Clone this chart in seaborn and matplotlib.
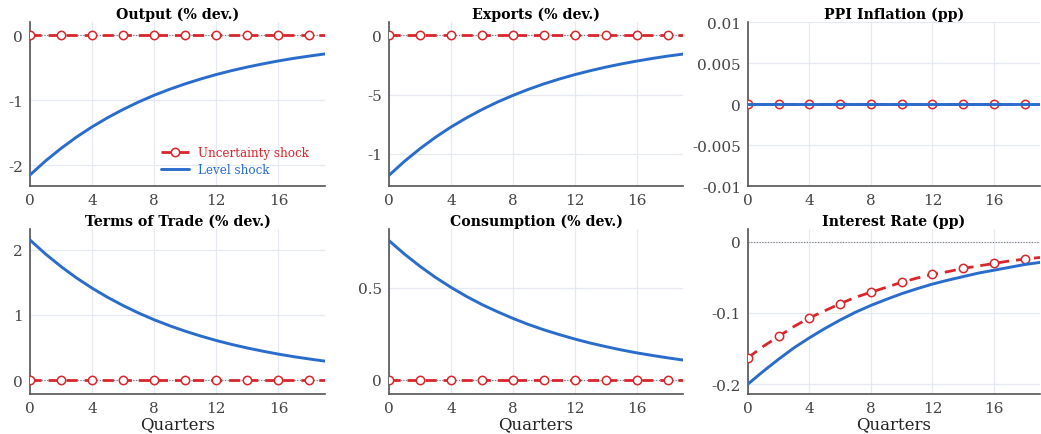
import numpy as np
import pandas as pd
import matplotlib
matplotlib.use("Agg")
import matplotlib.pyplot as plt
import seaborn as sns

quarters = list(range(20))
zeros = [0.0] * 20

output_level = [-2.150, -1.935, -1.742, -1.567, -1.411, -1.270, -1.143, -1.028, -0.925, -0.833,
                -0.750, -0.675, -0.607, -0.546, -0.492, -0.443, -0.398, -0.358, -0.323, -0.290]
exports_level = [-1.180, -1.062, -0.956, -0.860, -0.774, -0.697, -0.627, -0.564, -0.508, -0.457,
                 -0.411, -0.370, -0.333, -0.300, -0.270, -0.243, -0.219, -0.197, -0.177, -0.160]
ppi_level = [0.0] * 20
tot_level = [2.150, 1.935, 1.742, 1.567, 1.411, 1.270, 1.143, 1.028, 0.925, 0.833,
             0.750, 0.675, 0.607, 0.546, 0.492, 0.443, 0.398, 0.358, 0.323, 0.290]
cons_level = [0.755, 0.682, 0.616, 0.556, 0.502, 0.453, 0.409, 0.370, 0.334, 0.301,
              0.272, 0.246, 0.222, 0.200, 0.181, 0.163, 0.147, 0.133, 0.120, 0.108]
rate_level = [-0.200, -0.182, -0.165, -0.149, -0.135, -0.122, -0.110, -0.099, -0.0895, -0.081,
              -0.073, -0.066, -0.0595, -0.054, -0.049, -0.044, -0.040, -0.036, -0.032, -0.029]
rate_unc = [-0.163, -0.147, -0.133, -0.119, -0.107, -0.097, -0.087, -0.078, -0.071, -0.064,
            -0.057, -0.051, -0.046, -0.042, -0.0375, -0.034, -0.0305, -0.027, -0.0245, -0.022]

titles = ["Output (% dev.)", "Exports (% dev.)", "PPI Inflation (pp)",
          "Terms of Trade (% dev.)", "Consumption (% dev.)", "Interest Rate (pp)"]
level_series = [output_level, exports_level, ppi_level, tot_level, cons_level, rate_level]
unc_series = [zeros, zeros, zeros, zeros, zeros, rate_unc]
ylims = [(-2.32, 0.2), (-1.27, 0.11), (-0.01, 0.01), (-0.214, 2.317), (-0.076, 0.8175), (-0.214, 0.0178)]
yticks = [[0, -1, -2], [0, -0.5, -1], [0.01, 0.005, 0, -0.005, -0.01], [0, 1, 2], [0, 0.5], [0, -0.1, -0.2]]
yticklabels = [["0", "-1", "-2"], ["0", "-5", "-1"], ["0.01", "0.005", "0", "-0.005", "-0.01"],
               ["0", "1", "2"], ["0", "0.5"], ["0", "-0.1", "-0.2"]]
xticks = [0, 4, 8, 12, 16]

sns.set_theme(style="white")
plt.rcParams['font.family'] = ['DejaVu Serif']

RED = "#d9262c"
BLUE = "#2a6ccc"
GRID = "#e6e9f0"
SPINE = "#555555"

fig = plt.figure(figsize=(10.41, 4.35), dpi=100)
lefts = [0.0288, 0.3737, 0.7185]
widths = [0.2834, 0.2824, 0.2805]
bottoms = [0.5701, 0.092]
heights = [0.377, 0.379]

for i in range(6):
    r, c = divmod(i, 3)
    ax = fig.add_axes([lefts[c], bottoms[r], widths[c], heights[r]])
    df = pd.DataFrame({"q": quarters, "lvl": level_series[i], "unc": unc_series[i]})
    ax.axhline(0, color="#777777", lw=0.8, ls=(0, (1, 1.5)), zorder=1)
    sns.lineplot(data=df, x="q", y="unc", ax=ax, color=RED, lw=2.0, ls=(0, (4, 2.5)),
                 marker="o", markevery=2, markersize=6, markerfacecolor="white",
                 markeredgecolor=RED, markeredgewidth=1.1, label="Uncertainty shock", zorder=3)
    sns.lineplot(data=df, x="q", y="lvl", ax=ax, color=BLUE, lw=2.1,
                 label="Level shock", zorder=4)
    ax.set_xlim(0, 19)
    ax.set_ylim(*ylims[i])
    ax.set_xticks(xticks)
    ax.set_xticklabels([str(t) for t in xticks])
    ax.set_yticks(yticks[i])
    ax.set_yticklabels(yticklabels[i])
    ax.grid(True, color=GRID, lw=0.9)
    ax.set_axisbelow(True)
    for s in ["top", "right"]:
        ax.spines[s].set_visible(False)
    for s in ["left", "bottom"]:
        ax.spines[s].set_color(SPINE)
        ax.spines[s].set_linewidth(1.2)
    ax.tick_params(axis="both", length=3, width=0.8, color=SPINE, labelsize=11,
                   labelcolor="#444444", pad=2)
    ax.set_title(titles[i], fontsize=10.2, fontweight="bold", pad=3, color="black")
    ax.set_ylabel("")
    if r == 1:
        ax.set_xlabel("Quarters", fontsize=12, labelpad=0, color="#222222")
    else:
        ax.set_xlabel("")
    if i == 0:
        leg = ax.legend(loc="lower right", frameon=False, fontsize=8.6,
                        handlelength=2.4, handletextpad=0.7, borderaxespad=0.0,
                        labelspacing=0.35, bbox_to_anchor=(0.96, 0.03))
        for txt, col in zip(leg.get_texts(), [RED, BLUE]):
            txt.set_color(col)
    else:
        if ax.get_legend() is not None:
            ax.get_legend().remove()

fig.savefig("out.png", dpi=100)
